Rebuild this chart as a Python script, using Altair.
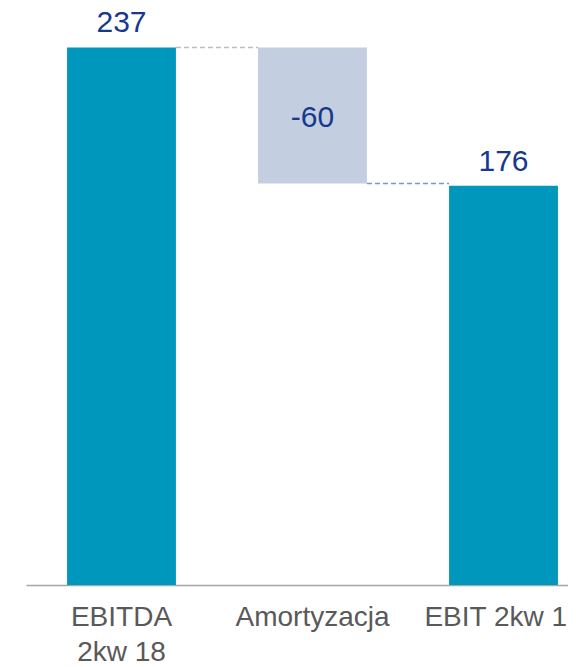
import altair as alt
import pandas as pd

categories = ["EBITDA 2kw 18", "Amortyzacja", "EBIT 2kw 18"]
starts = [0, 237, 0]
ends = [237, 177, 176]
labels = ["237", "-60", "176"]
kinds = ["total", "delta", "total"]

df = pd.DataFrame({
    "cat": categories,
    "start": starts,
    "end": ends,
    "label": labels,
    "kind": kinds,
})
df["mid"] = (df["start"] + df["end"]) / 2
df["top"] = df[["start", "end"]].max(axis=1)

conn = pd.DataFrame({
    "from": [categories[0], categories[1]],
    "to": [categories[1], categories[2]],
    "val": [237, 177],
    "col": ["#BDBDBD", "#8393C4"],
})

xscale = alt.Scale(domain=categories, range=[0, 573], paddingInner=0.43, paddingOuter=0.215)
yscale = alt.Scale(domain=[0, 250], nice=False)

x = alt.X("cat:N", scale=xscale, sort=categories, title=None,
          axis=alt.Axis(labelAngle=0, ticks=False, domainColor="#A6A6A6", domainWidth=1.5,
                        labelFont="Liberation Sans", labelFontSize=28, labelColor="#595959",
                        labelPadding=18, labelLimit=400, labelLineHeight=35,
                        labelExpr="datum.value == 'EBITDA 2kw 18' ? ['EBITDA', '2kw 18'] : datum.label"))

bars = alt.Chart(df).mark_bar().encode(
    x=x,
    y=alt.Y("start:Q", scale=yscale, axis=None),
    y2="end:Q",
    color=alt.Color("kind:N", scale=alt.Scale(domain=["total", "delta"], range=["#0097BD", "#C3CEE0"]), legend=None),
)

rules = alt.Chart(conn).mark_rule(strokeDash=[5, 3], strokeWidth=1.6).encode(
    x=alt.X("from:N", scale=xscale, sort=categories, bandPosition=1),
    x2=alt.X2("to:N", bandPosition=0),
    y=alt.Y("val:Q", scale=yscale),
    color=alt.Color("col:N", scale=None),
)

tot = df[df["kind"] == "total"]
dl = df[df["kind"] == "delta"]

txt_top = alt.Chart(tot).mark_text(baseline="alphabetic", dy=-15, font="Liberation Sans", fontSize=30, color="#17398C").encode(
    x=alt.X("cat:N", scale=xscale, sort=categories),
    y=alt.Y("top:Q", scale=yscale),
    text="label:N",
)
txt_mid = alt.Chart(dl).mark_text(baseline="middle", dy=2, font="Liberation Sans", fontSize=30, color="#17398C").encode(
    x=alt.X("cat:N", scale=xscale, sort=categories),
    y=alt.Y("mid:Q", scale=yscale),
    text="label:N",
)

chart = alt.layer(bars, rules, txt_top, txt_mid).properties(
    width=542, height=567,
    autosize=alt.AutoSizeParams(type="none"),
    padding={"left": 18, "top": 10, "right": 0, "bottom": 78},
).configure_view(stroke=None)

chart.save("out.html", embed_options={"renderer": "svg", "actions": False})
